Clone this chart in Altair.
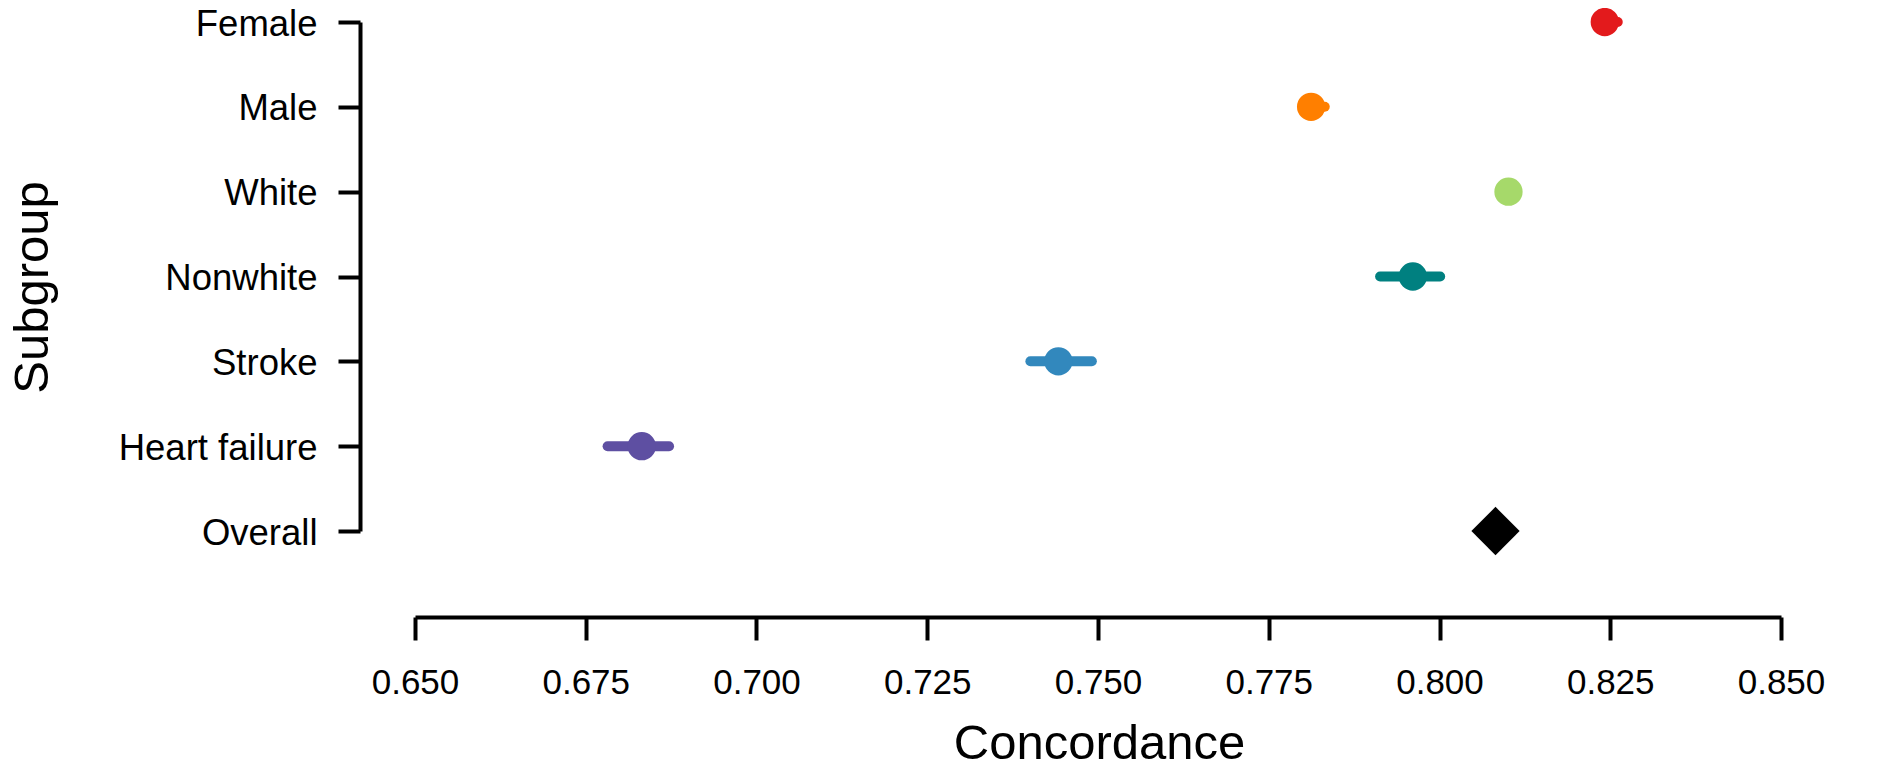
import altair as alt
import pandas as pd

subgroups = ["Female", "Male", "White", "Nonwhite", "Stroke", "Heart failure", "Overall"]
concordance = [0.8242, 0.7812, 0.8101, 0.7961, 0.7442, 0.6832, 0.8082]
lower = [0.8233, 0.7803, 0.8094, 0.7913, 0.7401, 0.6782, 0.8082]
upper = [0.8261, 0.7832, 0.8109, 0.8001, 0.7491, 0.6872, 0.8082]
colors = ["#E31A1C", "#FF7F00", "#A6D96A", "#008080", "#3288BD", "#5E4FA2", "#000000"]
x_ticks = [0.650, 0.675, 0.700, 0.725, 0.750, 0.775, 0.800, 0.825, 0.850]

df = pd.DataFrame({"subgroup": subgroups, "concordance": concordance,
                   "lower": lower, "upper": upper})

FONT = "Liberation Sans"

x_axis = alt.Axis(values=x_ticks, format=".3f", grid=False, offset=86,
                  domainWidth=4, domainColor="black", tickWidth=4, tickColor="black",
                  tickSize=23, labelFontSize=35, labelColor="black", labelPadding=53,
                  labelBaseline="alphabetic", labelFlush=False, labelOverlap=False,
                  title="Concordance", titleFontSize=49, titleFontWeight="normal",
                  titleColor="black", titleX=684, titleY=141, titleBaseline="alphabetic",
                  titleAlign="center", labelFont=FONT, titleFont=FONT)
y_axis = alt.Axis(grid=False, offset=55, domainWidth=4, domainColor="black",
                  tickWidth=4, tickColor="black", tickSize=22, labelFontSize=36.5,
                  labelColor="black", labelPadding=21, labelBaseline="alphabetic",
                  labelOffset=13, labelLimit=0, title="Subgroup", titleFontSize=49,
                  titleFontWeight="normal", titleColor="black", titleAngle=-90,
                  titleX=-328, titleY=265, titleAlign="center", titleBaseline="middle",
                  labelFont=FONT, titleFont=FONT)

xs = alt.Scale(domain=[0.65, 0.85], nice=False, zero=False)
ys = alt.Scale(type="point", padding=0)
cs = alt.Scale(domain=subgroups, range=colors)

base = alt.Chart(df)

ci = base.mark_rule(strokeWidth=10, strokeCap="round").encode(
    x=alt.X("lower:Q", scale=xs, axis=x_axis),
    x2="upper:Q",
    y=alt.Y("subgroup:N", sort=subgroups, scale=ys, axis=y_axis),
    color=alt.Color("subgroup:N", scale=cs, legend=None),
).transform_filter(alt.datum.subgroup != "Overall")

dots = base.mark_point(shape="circle", filled=True, opacity=1, size=800).encode(
    x=alt.X("concordance:Q", scale=xs, axis=x_axis),
    y=alt.Y("subgroup:N", sort=subgroups, scale=ys, axis=y_axis),
    color=alt.Color("subgroup:N", scale=cs, legend=None),
).transform_filter(alt.datum.subgroup != "Overall")

overall = base.mark_point(shape="diamond", filled=True, opacity=1, size=2330).encode(
    x=alt.X("concordance:Q", scale=xs, axis=x_axis),
    y=alt.Y("subgroup:N", sort=subgroups, scale=ys, axis=y_axis),
    color=alt.Color("subgroup:N", scale=cs, legend=None),
).transform_filter(alt.datum.subgroup == "Overall")

chart = alt.layer(ci, dots, overall).properties(
    width=1366, height=509,
    autosize=alt.AutoSizeParams(type="none"),
    padding={"left": 407, "top": 14, "right": 80, "bottom": 240},
).configure(background="white").configure_view(stroke=None, strokeWidth=0)

chart.save("out.html", embed_options={"renderer": "svg", "actions": False})
